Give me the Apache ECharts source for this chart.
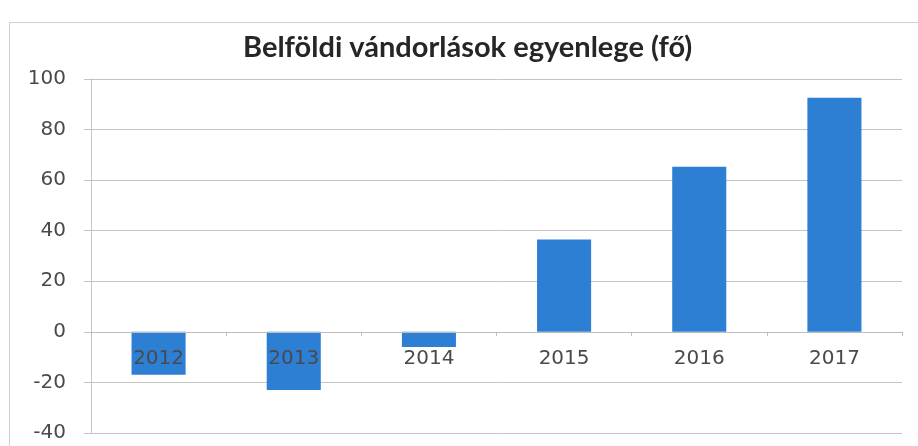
<!DOCTYPE html>
<html>
<head>
<meta charset="utf-8">
<script src="https://cdn.jsdelivr.net/npm/echarts@6/dist/echarts.min.js"></script>
<style>
  html, body { margin: 0; padding: 0; background: #fff; }
  #frame { position: absolute; left: 9px; top: 22px; width: 1000px; height: 1000px; border: 1px solid #d0d0d0; }
  #chart { position: absolute; left: 0; top: 0; width: 918px; height: 446px; }
</style>
</head>
<body>
<div id="frame"></div>
<div id="chart"></div>
<script>
const years = ['2012', '2013', '2014', '2015', '2016', '2017'];
const balance = [-17, -23, -6, 36.5, 65.3, 92.6];
const yTicks = { min: -40, max: 100, step: 20 };

const gridTop = 79, gridBottom = 13;
const plotHeight = 446 - gridTop - gridBottom;
// put the category axis on the zero line
const zeroOffset = -plotHeight * (0 - yTicks.min) / (yTicks.max - yTicks.min);

const chart = echarts.init(document.getElementById('chart'));

const option = {
  animation: false,
  title: {
    text: 'Belföldi vándorlások egyenlege (fő)',
    left: 238,
    top: 28,
    textStyle: { fontFamily: 'Lato', fontWeight: 'bold', fontSize: 29, color: '#262626' }
  },
  grid: { left: 91, right: 16, top: gridTop, bottom: gridBottom, outerBoundsMode: 'none' },
  xAxis: {
    type: 'category',
    data: years,
    z: 3,
    position: 'bottom',
    offset: zeroOffset,
    axisLine: { onZero: false, lineStyle: { color: '#bdbdbd' } },
    axisTick: { show: true, length: 4, lineStyle: { color: '#bdbdbd' } },
    axisLabel: { margin: 17, fontFamily: 'DejaVu Sans', fontSize: 20, color: '#4a4a4a' }
  },
  yAxis: {
    type: 'value',
    min: yTicks.min,
    max: yTicks.max,
    interval: yTicks.step,
    axisLine: { show: true, lineStyle: { color: '#c4c4c4' } },
    axisTick: { show: true, length: 7, lineStyle: { color: '#c4c4c4' } },
    axisLabel: { margin: 25, fontFamily: 'DejaVu Sans', fontSize: 20, color: '#4a4a4a' },
    splitLine: { lineStyle: { color: '#c4c4c4' } }
  },
  series: [
    {
      type: 'bar',
      data: balance,
      barWidth: '40%',
      itemStyle: { color: '#2d7fd3' }
    }
  ]
};

chart.setOption(option);
</script>
</body>
</html>
